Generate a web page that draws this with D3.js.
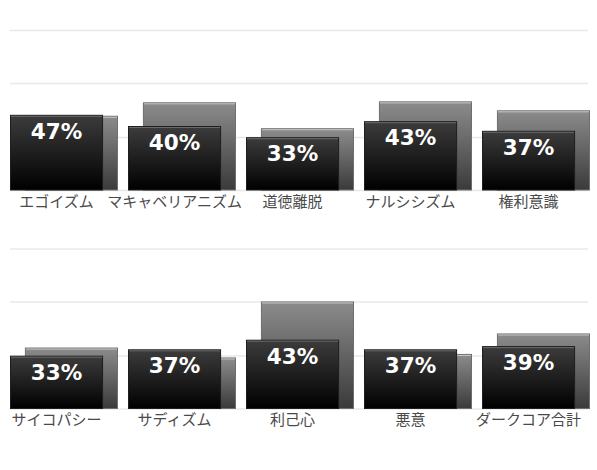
<!DOCTYPE html>
<html>
<head>
<meta charset="utf-8">
<script src="https://cdn.jsdelivr.net/npm/d3@7"></script>
<style>
  body { margin: 0; background: #fff; }
  svg { display: block; }
</style>
</head>
<body>
<svg id="chart"></svg>
<script>
const categoriesTop = ['エゴイズム', 'マキャベリアニズム', '道徳離脱', 'ナルシシズム', '権利意識'];
const valuesTop = [47, 40, 33, 43, 37];
const compareTop = [46.4, 54.8, 38.6, 55.4, 49.8];

const categoriesBottom = ['サイコパシー', 'サディズム', '利己心', '悪意', 'ダークコア合計'];
const valuesBottom = [33, 37, 43, 37, 39];
const compareBottom = [38.1, 31.9, 66.9, 34.1, 46.9];

const gridTicks = [0, 33.3, 66.7, 100];

(function(){
  let width = 597, height = 470;

  let svg = d3.select('svg#chart')
      .attr('width', width)
      .attr('height', height);

  let defs = svg.append('defs');

  let front = defs.append('linearGradient')
      .attr('id', 'grad-front')
      .attr('x1', 0).attr('y1', 0).attr('x2', 0).attr('y2', 1);
  front.append('stop').attr('offset', '0%').attr('stop-color', '#3c3c3c');
  front.append('stop').attr('offset', '100%').attr('stop-color', '#000000');

  let back = defs.append('linearGradient')
      .attr('id', 'grad-back')
      .attr('x1', 0).attr('y1', 0).attr('x2', 0).attr('y2', 1);
  back.append('stop').attr('offset', '0%').attr('stop-color', '#8c8c8c');
  back.append('stop').attr('offset', '100%').attr('stop-color', '#3a3a3a');

  function drawPanel(top, cats, values, compare){
    let g = svg.append('g').attr('transform', `translate(0,${top})`);

    let x = d3.scaleBand()
        .domain(cats)
        .range([10, 590])
        .paddingInner(0.085)
        .paddingOuter(0);

    let y = d3.scaleLinear()
        .domain([0, 100])
        .range([160, 0]);

    let bw = x.bandwidth(),
        barW = bw * 0.862,
        shift = bw - barW;

    g.append('g')
        .attr('class', 'grid')
      .selectAll('line')
      .data(gridTicks)
      .enter().append('line')
        .attr('x1', 10)
        .attr('x2', 588)
        .attr('y1', d => Math.round(y(d)) + 0.5)
        .attr('y2', d => Math.round(y(d)) + 0.5)
        .attr('stroke', '#e8e8e8')
        .attr('stroke-width', 1.5);

    let group = g.selectAll('g.cat')
      .data(cats.map((c, i) => ({name: c, value: values[i], compare: compare[i]})))
      .enter().append('g')
        .attr('class', 'cat')
        .attr('transform', d => `translate(${x(d.name)},0)`);

    // back (comparison) bar
    group.append('rect')
        .attr('x', shift + 0.5)
        .attr('y', d => y(d.compare) + 0.5)
        .attr('width', barW - 1)
        .attr('height', d => y(0) - y(d.compare) - 0.5)
        .attr('fill', 'url(#grad-back)')
        .attr('stroke', '#6e6e6e');
    group.append('line')
        .attr('x1', shift + 1)
        .attr('x2', shift + barW - 1)
        .attr('y1', d => y(d.compare) + 1.5)
        .attr('y2', d => y(d.compare) + 1.5)
        .attr('stroke', '#c8c8c8');

    // front (main) bar
    group.append('rect')
        .attr('x', 0.5)
        .attr('y', d => y(d.value) + 0.5)
        .attr('width', barW - 1)
        .attr('height', d => y(0) - y(d.value) - 0.5)
        .attr('fill', 'url(#grad-front)')
        .attr('stroke', '#1e1e1e');
    group.append('line')
        .attr('x1', 1)
        .attr('x2', barW - 1)
        .attr('y1', d => y(d.value) + 1.5)
        .attr('y2', d => y(d.value) + 1.5)
        .attr('stroke', '#6a6a6a');

    group.append('text')
        .attr('x', barW / 2)
        .attr('y', d => y(d.value) + 24)
        .attr('text-anchor', 'middle')
        .attr('font-family', 'DejaVu Sans, sans-serif')
        .attr('font-weight', 'bold')
        .attr('font-size', 21.5)
        .attr('fill', '#ffffff')
        .text(d => d.value + '%');

    group.append('text')
        .attr('x', barW / 2)
        .attr('y', y(0) + 16.5)
        .attr('text-anchor', 'middle')
        .attr('font-family', '"Noto Sans CJK JP", sans-serif')
        .attr('font-size', 15)
        .attr('fill', '#4a4a4a')
        .text(d => d.name);
  }

  drawPanel(30, categoriesTop, valuesTop, compareTop);
  drawPanel(248.5, categoriesBottom, valuesBottom, compareBottom);
})();
</script>
</body>
</html>
